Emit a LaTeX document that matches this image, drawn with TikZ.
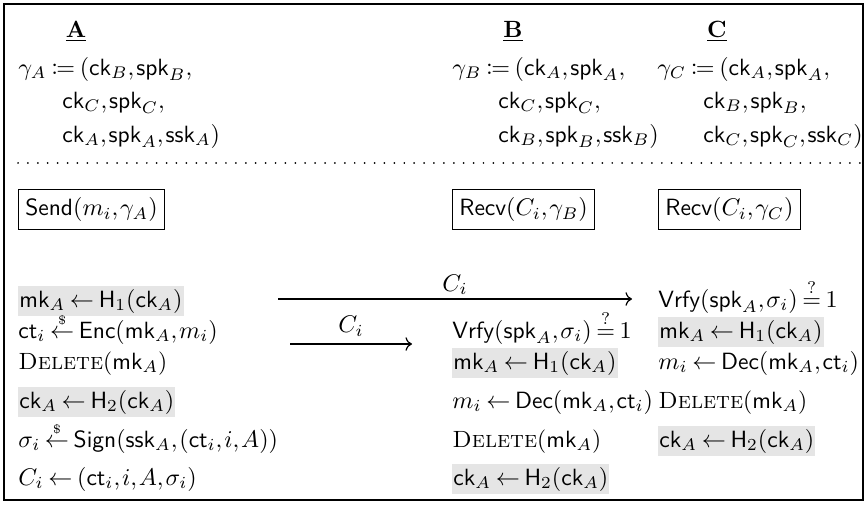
\documentclass[tikz,border=0pt]{standalone}
\usepackage{amsmath,amssymb,mathtools}
\usepackage{fontspec}
\usetikzlibrary{arrows.meta}
\newcommand{\fn}[1]{\mathsf{#1}}
\newcommand{\smpl}{\mathrel{\overset{\scriptscriptstyle\$}{\leftarrow}}}
\newcommand{\qeq}{\stackrel{?}{=}}
\thinmuskip=1.4mu
\thickmuskip=3.5mu plus 2mu
\newcommand{\fs}{\fontsize{9.75}{12}\selectfont}
\begin{document}
\begin{tikzpicture}[x=0.415pt,y=-0.415pt,
  txt/.style={anchor=base west,inner sep=0pt,font=\fs},
  hl/.style={anchor=base west,inner xsep=0.4pt,inner ysep=1.1pt,fill=black!10,font=\fs},
  hdr/.style={anchor=base,inner sep=0pt,font=\fs},
  algbox/.style={draw,line width=0.5pt,anchor=west,minimum height=16.2pt,inner xsep=2.8pt,font=\fs},
  msg/.style={-To,line width=0.5pt},
  dotsep/.style={line width=0.8pt,dash pattern=on 0.01pt off 4.1pt,line cap=round}]
\useasboundingbox (0,0) rectangle (866,505);
\draw[line width=0.6pt] (4,4) rectangle (863,500);
% headers
\node[hdr] (hA) at (76,37) {\underline{\textbf{A}}};
\node[hdr] (hB) at (513,37) {\underline{\textbf{B}}};
\node[hdr] (hC) at (717,37) {\underline{\textbf{C}}};
% states
\node[txt] (gA1) at (18,75) {$\gamma_A \coloneqq (\fn{ck}_B,\fn{spk}_B,$};
\node[txt] (gA2) at (62,108) {$\fn{ck}_C,\fn{spk}_C,$};
\node[txt] (gA3) at (62,142) {$\fn{ck}_A,\fn{spk}_A,\fn{ssk}_A)$};
\node[txt] (gB1) at (452,75) {$\gamma_B \coloneqq (\fn{ck}_A,\fn{spk}_A,$};
\node[txt] (gB2) at (498,108) {$\fn{ck}_C,\fn{spk}_C,$};
\node[txt] (gB3) at (498,142) {$\fn{ck}_B,\fn{spk}_B,\fn{ssk}_B)$};
\node[txt] (gC1) at (657,75) {$\gamma_C \coloneqq (\fn{ck}_A,\fn{spk}_A,$};
\node[txt] (gC2) at (703,108) {$\fn{ck}_B,\fn{spk}_B,$};
\node[txt] (gC3) at (703,142) {$\fn{ck}_C,\fn{spk}_C,\fn{ssk}_C)$};
\coordinate (dl) at (18,163);
\coordinate (dr) at (860,163);
\draw[dotsep] (dl) -- (dr);
% algorithm boxes
\node[algbox] (send) at (18,209.5) {$\fn{Send}(m_i,\gamma_A)$};
\node[algbox] (recvB) at (452,209.5) {$\fn{Recv}(C_i,\gamma_B)$};
\node[algbox] (recvC) at (658,209.5) {$\fn{Recv}(C_i,\gamma_C)$};
% column A
\node[hl] (a1) at (18,307) {$\fn{mk}_A \leftarrow \fn{H}_1(\fn{ck}_A)$};
\node[txt] (a2) at (18,338) {$\fn{ct}_i \smpl \fn{Enc}(\fn{mk}_A,m_i)$};
\node[txt] (a3) at (18,369) {\textsc{Delete}($\fn{mk}_A$)};
\node[hl] (a4) at (18,408) {$\fn{ck}_A \leftarrow \fn{H}_2(\fn{ck}_A)$};
\node[txt] (a5) at (18,447) {$\sigma_i \smpl \fn{Sign}(\fn{ssk}_A,(\fn{ct}_i,i,A))$};
\node[txt] (a6) at (18,485) {$C_i \leftarrow (\fn{ct}_i,i,A,\sigma_i)$};
% column B
\node[txt] (b1) at (452,338) {$\fn{Vrfy}(\fn{spk}_A,\sigma_i) \qeq 1$};
\node[hl] (b2) at (452,369) {$\fn{mk}_A \leftarrow \fn{H}_1(\fn{ck}_A)$};
\node[txt] (b3) at (452,408) {$m_i \leftarrow \fn{Dec}(\fn{mk}_A,\fn{ct}_i)$};
\node[txt] (b4) at (452,447) {\textsc{Delete}($\fn{mk}_A$)};
\node[hl] (b5) at (452,485) {$\fn{ck}_A \leftarrow \fn{H}_2(\fn{ck}_A)$};
% column C
\node[txt] (c1) at (658,307) {$\fn{Vrfy}(\fn{spk}_A,\sigma_i) \qeq 1$};
\node[hl] (c2) at (658,338) {$\fn{mk}_A \leftarrow \fn{H}_1(\fn{ck}_A)$};
\node[txt] (c3) at (658,369) {$m_i \leftarrow \fn{Dec}(\fn{mk}_A,\fn{ct}_i)$};
\node[txt] (c4) at (658,408) {\textsc{Delete}($\fn{mk}_A$)};
\node[hl] (c5) at (658,447) {$\fn{ck}_A \leftarrow \fn{H}_2(\fn{ck}_A)$};
% messages
\coordinate (m1s) at (278,299);
\coordinate (m1e) at (632,299);
\draw[msg] (m1s) -- node[above=1.5pt,inner sep=0pt,font=\fs] (l1) {$C_i$} (m1e);
\coordinate (m2s) at (290,344);
\coordinate (m2e) at (412,344);
\draw[msg] (m2s) -- node[above=3pt,inner sep=0pt,font=\fs] (l2) {$C_i$} (m2e);
\end{tikzpicture}
\end{document}
